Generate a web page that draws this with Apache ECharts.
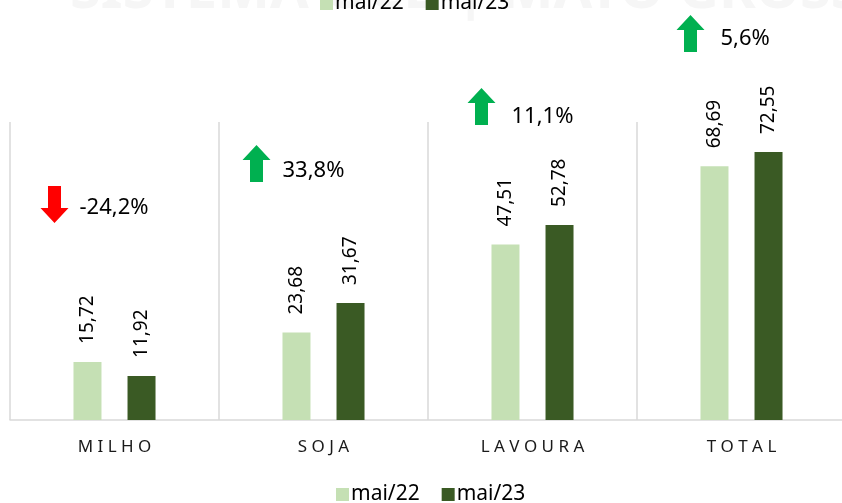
<!DOCTYPE html>
<html><head><meta charset="utf-8">
<script src="https://cdn.jsdelivr.net/npm/echarts@6/dist/echarts.min.js"></script>
<style>html,body{margin:0;padding:0;background:#fff;overflow:hidden;width:842px;height:503px}#c{width:850px;height:503px}</style>
</head><body><div id="c"></div>
<script>
const categories = ['MILHO', 'SOJA', 'LAVOURA', 'TOTAL'];
const seriesNames = ['mai/22', 'mai/23'];
const mai22 = [15.72, 23.68, 47.51, 68.69];
const mai23 = [11.92, 31.67, 52.78, 72.55];
const changes = ['-24,2%', '33,8%', '11,1%', '5,6%'];
const changeUp = [false, true, true, true];

const FONT = 'Noto Sans';
const chart = echarts.init(document.getElementById('c'), null, {renderer: 'canvas'});
const fmt = p => p.value.toFixed(2).replace('.', ',');
const spaced = s => s.split('').join(' ');

const labelCfg = {
  show: true, position: 'top', rotate: 90, align: 'left', verticalAlign: 'middle',
  distance: 18, formatter: fmt, color: '#000', fontFamily: FONT, fontSize: 19
};
const legendText = {fontFamily: FONT, fontSize: 21, color: '#000', padding: [0,0,0,-3]};

chart.setOption({
  animation: false,
  backgroundColor: '#fff',
  legend: [
    {data: seriesNames, bottom: -2, left: 336, padding: 0, itemWidth: 13, itemHeight: 13, itemGap: 22,
     icon: 'rect', textStyle: legendText},
    {data: seriesNames, top: -7, left: 320, padding: 0, itemWidth: 13, itemHeight: 13, itemGap: 22,
     icon: 'rect', textStyle: legendText}
  ],
  grid: {left: 10, top: 122, width: 836, bottom: 83, containLabel: false},
  xAxis: {
    type: 'category', data: categories,
    axisLine: {show: true, lineStyle: {color: '#d9d9d9', width: 1.5}},
    axisTick: {show: false},
    splitLine: {show: true, lineStyle: {color: '#d9d9d9', width: 1.5}},
    axisLabel: {formatter: v => spaced(v), color: '#1a1a1a', fontFamily: FONT, fontSize: 17, margin: 19}
  },
  yAxis: {type: 'value', min: 0, max: 80.7, show: false, splitLine: {show: false}},
  series: [
    {name: seriesNames[0], type: 'bar', data: mai22, barWidth: 28, barGap: '93%',
     itemStyle: {color: '#c5e0b4'}, label: labelCfg},
    {name: seriesNames[1], type: 'bar', data: mai23, barWidth: 28,
     itemStyle: {color: '#3a5a24'}, label: labelCfg}
  ]
});

// annotation arrows with percentage changes
const arrowDx = [-60, -67, -51, -51];
const arrowTop = [186, 145, 88, 15];
const textDx = [25, 26, 30, 30];
const textDy = [22, 26, 29, 24];
const graphics = [{
  type: 'text', left: 70, top: -36, z: -10,
  style: {text: 'SISTEMA OCB | MATO GROSSO', fill: '#f6f6f6', font: 'bold 56px ' + FONT}
}];
categories.forEach((c, i) => {
  const cx = chart.convertToPixel({xAxisIndex: 0}, c) + arrowDx[i];
  const t = arrowTop[i];
  const hw = 14, sw = 6.5, h = 37, head = 15;
  let pts;
  if (changeUp[i]) {
    pts = [[cx, t], [cx + hw, t + head], [cx + sw, t + head], [cx + sw, t + h], [cx - sw, t + h], [cx - sw, t + head], [cx - hw, t + head]];
  } else {
    pts = [[cx, t + h], [cx + hw, t + h - head], [cx + sw, t + h - head], [cx + sw, t], [cx - sw, t], [cx - sw, t + h - head], [cx - hw, t + h - head]];
  }
  graphics.push({type: 'polygon', shape: {points: pts}, style: {fill: changeUp[i] ? '#00b050' : '#ff0000'}});
  graphics.push({type: 'text', x: cx + textDx[i], y: t + textDy[i],
    style: {text: changes[i], fill: '#000', font: '22px ' + FONT, verticalAlign: 'middle', textAlign: 'left'}});
});
chart.setOption({graphic: graphics});
</script></body></html>
